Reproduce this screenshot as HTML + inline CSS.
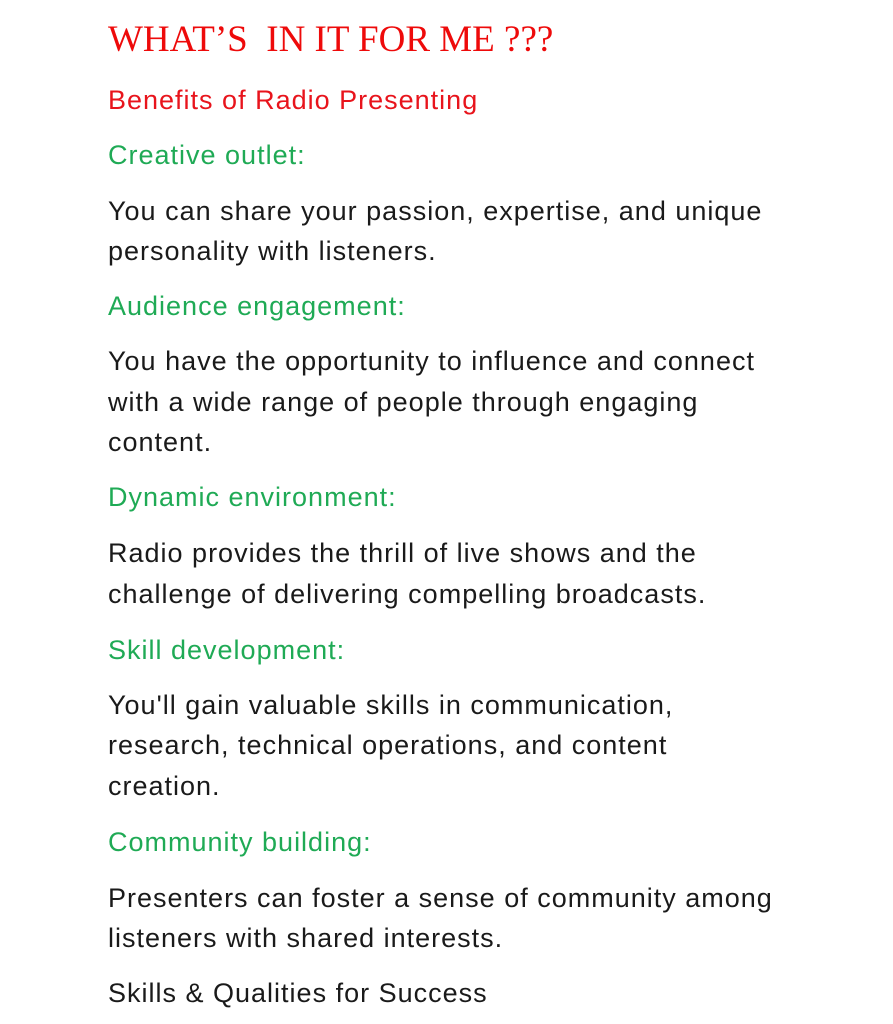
<!DOCTYPE html>
<html><head><meta charset="utf-8"><style>
html,body{margin:0;padding:0;background:#fff;}
body{width:893px;height:1024px;position:relative;overflow:hidden;font-family:"Liberation Sans",sans-serif;}
.l{position:absolute;left:108px;height:40px;line-height:40px;white-space:nowrap;font-size:27px;letter-spacing:1px;color:#1a1a1a;}
.g{color:#1faa55;}
.r{color:#e8141c;}
.t{font-family:"Liberation Serif",serif;font-size:37px;letter-spacing:0;color:#ee0a0a;height:44px;line-height:44px;}
</style></head><body>
<div class="l t" style="top:18px">WHAT’S&nbsp; IN IT FOR ME ???</div>
<div class="l r" style="top:80px">Benefits of Radio Presenting</div>
<div class="l g" style="top:135px">Creative outlet:</div>
<div class="l" style="top:191px">You can share your passion, expertise, and unique</div>
<div class="l" style="top:231px">personality with listeners.</div>
<div class="l g" style="top:286px">Audience engagement:</div>
<div class="l" style="top:341px">You have the opportunity to influence and connect</div>
<div class="l" style="top:382px">with a wide range of people through engaging</div>
<div class="l" style="top:422px">content.</div>
<div class="l g" style="top:477px">Dynamic environment:</div>
<div class="l" style="top:533px">Radio provides the thrill of live shows and the</div>
<div class="l" style="top:574px">challenge of delivering compelling broadcasts.</div>
<div class="l g" style="top:630px">Skill development:</div>
<div class="l" style="top:685px">You'll gain valuable skills in communication,</div>
<div class="l" style="top:725px">research, technical operations, and content</div>
<div class="l" style="top:766px">creation.</div>
<div class="l g" style="top:822px">Community building:</div>
<div class="l" style="top:878px">Presenters can foster a sense of community among</div>
<div class="l" style="top:918px">listeners with shared interests.</div>
<div class="l" style="top:973px">Skills &amp; Qualities for Success</div>
</body></html>
